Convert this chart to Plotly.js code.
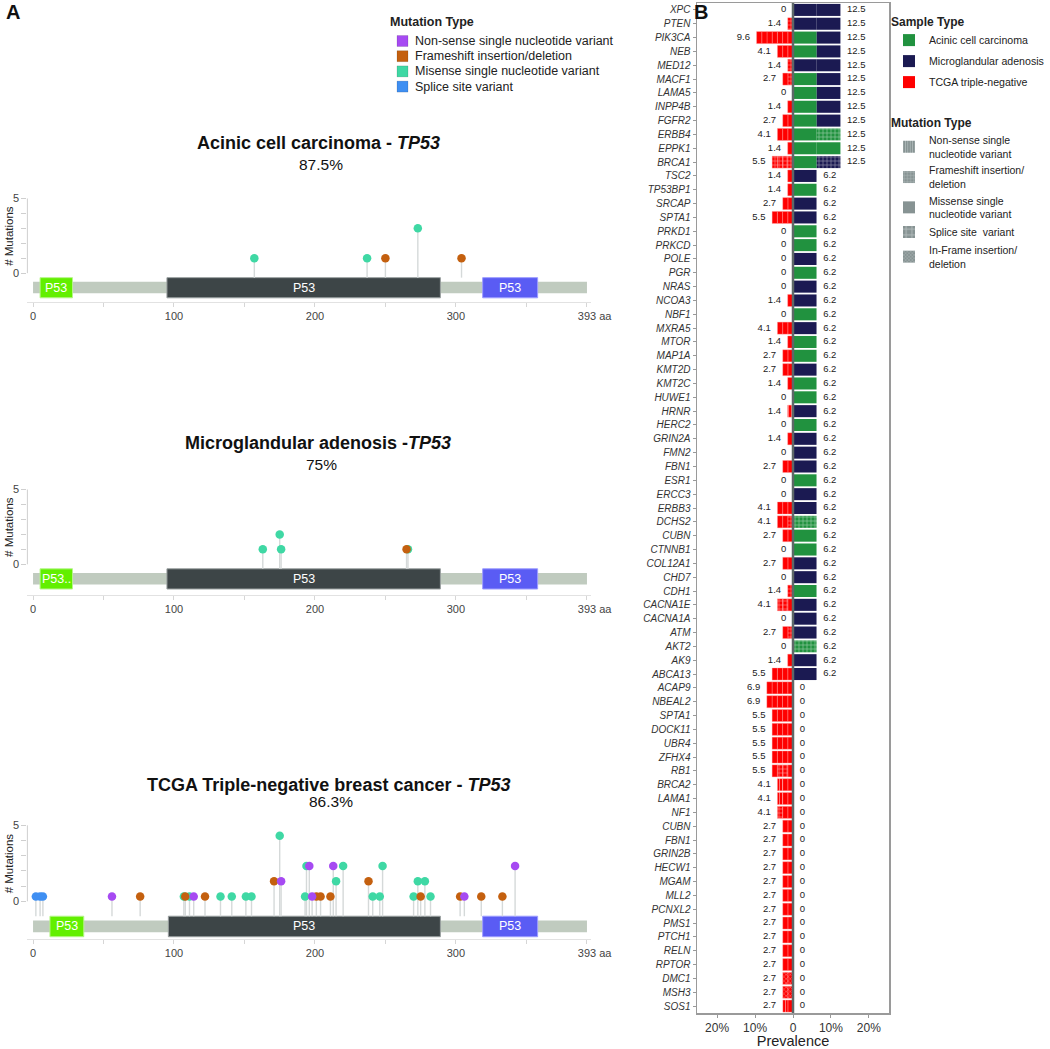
<!DOCTYPE html>
<html><head><meta charset="utf-8">
<script src="https://cdn.plot.ly/plotly-3.0.1.min.js"></script>
<style>html,body{margin:0;padding:0;background:#fff;overflow:hidden;width:1050px;height:1049px}#chart{width:1050px;height:1049px;overflow:hidden}</style>
</head><body><div id="chart"></div>
<script>
// ================= DATA: Panel A (TP53 lollipops) =================
const proteinLength = 393;
const mutTypes = ['Nonsense', 'Frameshift', 'Missense', 'Splice'];
const mutTypeLabels = ['Non-sense single nucleotide variant', 'Frameshift insertion/deletion', 'Misense single nucleotide variant', 'Splice site variant'];

const panelTitles = ['Acinic cell carcinoma - ', 'Microglandular adenosis -', 'TCGA Triple-negative breast cancer - '];
const panelGene = 'TP53';
const panelPct = ['87.5%', '75%', '86.3%'];

const acinicPos   = [157, 237, 250, 273, 304];
const acinicCount = [1, 1, 1, 3, 1];
const acinicType  = ['Missense', 'Missense', 'Frameshift', 'Missense', 'Frameshift'];

const mgaPos   = [163, 175, 176, 266, 265];
const mgaCount = [1, 2, 1, 1, 1];
const mgaType  = ['Missense', 'Missense', 'Missense', 'Missense', 'Frameshift'];

const tcgaPos   = [2, 5, 7, 56, 76, 107, 108, 111, 114, 122, 133, 141, 151, 155, 171, 175, 176, 193, 194, 196, 198, 201, 204, 211, 213, 215, 220, 238, 241, 246, 248, 270, 273, 275, 278, 282, 303, 306, 318, 333, 342];
const tcgaCount = [1, 1, 1, 1, 1, 1, 1, 1, 1, 1, 1, 1, 1, 1, 2, 5, 2, 1, 3, 3, 1, 1, 1, 1, 3, 2, 3, 2, 1, 1, 3, 1, 2, 1, 2, 1, 1, 1, 1, 1, 3];
const tcgaType  = ['Splice', 'Splice', 'Splice', 'Nonsense', 'Frameshift', 'Missense', 'Frameshift', 'Missense', 'Nonsense', 'Frameshift',
                   'Missense', 'Missense', 'Missense', 'Missense', 'Frameshift', 'Missense', 'Nonsense', 'Missense', 'Missense', 'Nonsense',
                   'Nonsense', 'Frameshift', 'Frameshift', 'Frameshift', 'Nonsense', 'Missense', 'Missense', 'Frameshift', 'Missense', 'Missense',
                   'Missense', 'Missense', 'Missense', 'Frameshift', 'Missense', 'Missense', 'Frameshift', 'Nonsense', 'Frameshift', 'Frameshift', 'Nonsense'];

const domainLabels = [['P53', 'P53', 'P53'], ['P53..', 'P53', 'P53'], ['P53', 'P53', 'P53']];
const domainStart  = [[5, 95, 319], [5, 95, 319], [12, 96, 319]];
const domainEnd    = [[28, 289, 358], [28, 289, 358], [36, 289, 358]];

// ================= DATA: Panel B (prevalence bars) =================
const genes = ['XPC','PTEN','PIK3CA','NEB','MED12','MACF1','LAMA5','INPP4B','FGFR2','ERBB4','EPPK1','BRCA1',
  'TSC2','TP53BP1','SRCAP','SPTA1','PRKD1','PRKCD',
  'POLE','PGR','NRAS','NCOA3','NBF1','MXRA5','MTOR','MAP1A','KMT2D','KMT2C','HUWE1','HRNR','HERC2','GRIN2A','FMN2','FBN1','ESR1','ERCC3','ERBB3',
  'DCHS2','CUBN','CTNNB1','COL12A1','CHD7','CDH1','CACNA1E','CACNA1A','ATM','AKT2','AK9','ABCA13',
  'ACAP9','NBEAL2','SPTA1','DOCK11','UBR4','ZFHX4','RB1','BRCA2','LAMA1','NF1',
  'CUBN','FBN1','GRIN2B','HECW1','MGAM','MLL2','PCNXL2','PMS1','PTCH1','RELN','RPTOR','DMC1','MSH3','SOS1'];

// TCGA triple-negative prevalence (%) and mutation type of each sample, from 0 outwards
const tcgaPct = [0,1.4,9.6,4.1,1.4,2.7,0,1.4,2.7,4.1,1.4,5.5,
  1.4,1.4,2.7,5.5,0,0,
  0,0,0,1.4,0,4.1,1.4,2.7,2.7,1.4,0,1.4,0,1.4,0,2.7,0,0,4.1,
  4.1,2.7,0,2.7,0,1.4,4.1,0,2.7,0,1.4,5.5,
  6.9,6.9,5.5,5.5,5.5,5.5,5.5,4.1,4.1,4.1,
  2.7,2.7,2.7,2.7,2.7,2.7,2.7,2.7,2.7,2.7,2.7,2.7,2.7,2.7];
const tcgaMut = ['','F','MMMMMMM','MMM','F','FM','','M','MM','MMM','M','FFFF',
  'M','M','MM','MMMM','','',
  '','','','M','','MMM','M','MM','MM','M','','N','','M','','MM','','','MMM',
  'FMM','MM','','MM','','F','MFF','','FM','','M','MMMM',
  'MMMMM','MMMMM','MMMM','MMMM','MMMM','MMMM','MFFM','MMN','MMN','MMF',
  'MM','MM','MM','MM','MM','MM','MM','MM','MM','MM','MM','II','II','MN'];

// Acinic cell carcinoma + microglandular adenosis prevalence (%) and sample mutation types
const rightPct = [12.5,12.5,12.5,12.5,12.5,12.5,12.5,12.5,12.5,12.5,12.5,12.5,
  6.2,6.2,6.2,6.2,6.2,6.2,
  6.2,6.2,6.2,6.2,6.2,6.2,6.2,6.2,6.2,6.2,6.2,6.2,6.2,6.2,6.2,6.2,6.2,6.2,6.2,
  6.2,6.2,6.2,6.2,6.2,6.2,6.2,6.2,6.2,6.2,6.2,6.2,
  0,0,0,0,0,0,0,0,0,0,
  0,0,0,0,0,0,0,0,0,0,0,0,0,0];
const acinicMut = ['','','M','M','','M','M','M','M','MF','MM','M',
  '','M','','','M','M',
  '','M','','','M','','M','M','','M','M','','M','','','','M','','',
  'F','M','M','','','M','','','','F','','',
  '','','','','','','','','','',
  '','','','','','','','','','','','','',''];
const mgaMut = ['MM','MM','M','M','MM','M','M','M','M','','','F',
  'M','','M','M','','',
  'M','','M','M','','M','','','M','','','M','','M','M','M','','M','M',
  '','','','M','M','','M','M','M','','M','M',
  '','','','','','','','','','',
  '','','','','','','','','','','','','',''];

const sampleTypes = ['Acinic cell carcinoma', 'Microglandular adenosis', 'TCGA triple-negative'];
const mutLegendLabels = ['Non-sense single<br>nucleotide variant', 'Frameshift insertion/<br>deletion', 'Missense single<br>nucleotide variant', 'Splice site  variant', 'In-Frame insertion/<br>deletion'];
const mutLegendCodes = ['N', 'F', 'M', 'S', 'I'];

// ================= STYLE =================
const FONT = 'Liberation Sans, Arial, Helvetica, sans-serif';
const W = 1050, H = 1049;
const px = v => v / W;
const py = v => 1 - v / H;
const typeColor = {Nonsense: '#a64af2', Frameshift: '#c4600f', Missense: '#3fd8a4', Splice: '#3f8ff2'};
const domainColors = ['#62ef00', '#3d4547', '#5a5cf4'];
const domainLines = ['#b6f58a', '#9aa0a0', '#9c9cff'];
const sampleColors = ['#21923f', '#1b1a52', '#ff0000'];
const patternOf = {M: '', F: '+', N: '|', S: '+', I: 'x'};
const patternSize = {M: 4, F: 4, N: 3, S: 7, I: 3};

const geom = [
  {dom: [py(302), py(194)], range: [-1.93, 5.3], shift: 0, titleY: 143, pctY: 164, titleX: 318},
  {dom: [py(595), py(485)], range: [-2.05, 5.3], shift: 0, titleY: 443, pctY: 464, titleX: 318},
  {dom: [py(939), py(822)], range: [-1.8, 5.9], shift: 0.68, titleY: 785, pctY: 801, titleX: 328}
];
const TRACK = [-1.35, -0.58], DOM = [-1.65, -0.3], STEM_BOTTOM = -0.3;

const traces = [], shapes = [], annotations = [];
const layout = {
  width: W, height: H, autosize: false, margin: {l: 0, r: 0, t: 0, b: 0, pad: 0, autoexpand: false},
  paper_bgcolor: '#fff', plot_bgcolor: 'rgba(0,0,0,0)',
  font: {family: FONT, color: '#222'}, hovermode: false, showlegend: true,
  barmode: 'relative', bargap: 0.13
};

const panelData = [
  {pos: acinicPos, count: acinicCount, type: acinicType},
  {pos: mgaPos, count: mgaCount, type: mgaType},
  {pos: tcgaPos, count: tcgaCount, type: tcgaType}
];

panelData.forEach((p, k) => {
  const xa = k === 0 ? 'x' : 'x' + (k + 1);
  const ya = k === 0 ? 'y' : 'y' + (k + 1);
  const g = geom[k];
  const sx = [], sy = [];
  p.pos.forEach((v, i) => { sx.push(v, v, null); sy.push(p.count[i], STEM_BOTTOM, null); });
  traces.push({type: 'scatter', mode: 'lines', x: sx, y: sy, xaxis: xa, yaxis: ya,
    line: {color: '#d5d9d9', width: 1.4}, showlegend: false, hoverinfo: 'skip'});
  ['Missense', 'Frameshift', 'Nonsense', 'Splice'].forEach(t => {
    const idx = p.type.map((tt, i) => tt === t ? i : -1).filter(i => i >= 0);
    if (!idx.length) return;
    traces.push({type: 'scatter', mode: 'markers', x: idx.map(i => p.pos[i]), y: idx.map(i => p.count[i]),
      xaxis: xa, yaxis: ya, marker: {color: typeColor[t], size: 8.5, line: {width: 0}},
      showlegend: false, hoverinfo: 'skip', cliponaxis: false});
  });
  shapes.push({type: 'rect', xref: xa, yref: ya, x0: 0, x1: proteinLength, y0: TRACK[0], y1: TRACK[1],
    fillcolor: '#c0cbbf', line: {width: 0}, layer: 'below'});
  domainStart[k].forEach((s, j) => {
    shapes.push({type: 'rect', xref: xa, yref: ya, x0: s, x1: domainEnd[k][j], y0: DOM[0], y1: DOM[1],
      fillcolor: domainColors[j], line: {color: domainLines[j], width: 1}, layer: 'below'});
    annotations.push({xref: xa, yref: ya, x: (s + domainEnd[k][j]) / 2, y: (DOM[0] + DOM[1]) / 2,
      xanchor: 'center', yanchor: 'middle',
      text: domainLabels[k][j], showarrow: false, font: {size: 12.5, color: '#ffffff', family: FONT}});
  });
  shapes.push({type: 'line', xref: xa + ' domain', yref: ya, x0: 0, x1: 0, y0: g.shift, y1: 5 + g.shift,
    line: {color: '#cfcfcf', width: 1}});
  annotations.push({xref: 'paper', yref: ya, x: px(9), y: 2.5 + g.shift, xanchor: 'center', yanchor: 'middle',
    text: '# Mutations', textangle: -90,
    showarrow: false, font: {size: 11.5, color: '#222', family: FONT}});
  annotations.push({xref: 'paper', yref: 'paper', x: px(g.titleX), y: py(g.titleY), xanchor: 'center', yanchor: 'middle',
    text: '<b>' + panelTitles[k] + '<i>' + panelGene + '</i></b>', showarrow: false,
    font: {size: 18, color: '#111', family: FONT}});
  annotations.push({xref: 'paper', yref: 'paper', x: px(g.titleX + 3), y: py(g.pctY), xanchor: 'center', yanchor: 'middle',
    text: panelPct[k], showarrow: false, font: {size: 15.5, color: '#111', family: FONT}});

  layout[k === 0 ? 'xaxis' : 'xaxis' + (k + 1)] = {
    domain: [px(27.4), px(591.2)], range: [-4, 396], anchor: ya,
    tickmode: 'array', tickvals: [0, 50, 100, 150, 200, 250, 300, 350, 393],
    ticktext: ['0', '', '100', '', '200', '', '300', '', '\u00a0\u00a0\u00a0\u00a0\u00a0393 aa'],
    ticks: 'outside', ticklen: 4, tickcolor: '#d6d6d6', showline: true, linecolor: '#e2e2e2', linewidth: 1,
    showgrid: false, zeroline: false, tickfont: {size: 11, color: '#444'}, fixedrange: true
  };
  layout[k === 0 ? 'yaxis' : 'yaxis' + (k + 1)] = {
    domain: g.dom, range: g.range, anchor: xa,
    tickmode: 'array', tickvals: [0, 1, 2, 3, 4, 5].map(v => v + g.shift), ticktext: ['0', '', '', '', '', '5'],
    ticks: 'outside', ticklen: 5, tickcolor: '#cfcfcf', showline: false, showgrid: false, zeroline: false,
    tickfont: {size: 11, color: '#444'}, fixedrange: true
  };
});

// Panel A legend (drawn)
annotations.push({xref: 'paper', yref: 'paper', x: px(388), y: py(22), xanchor: 'left', yanchor: 'middle', text: '<b>Mutation Type</b>',
  showarrow: false, font: {size: 12.5, color: '#222', family: FONT}});
mutTypes.forEach((t, i) => {
  const c = 41 + i * 15.2;
  shapes.push({type: 'rect', xref: 'paper', yref: 'paper', x0: px(397), x1: px(408), y0: py(c + 5.5), y1: py(c - 5.5),
    fillcolor: typeColor[t], line: {color: 'rgba(0,0,0,0.2)', width: 0.6}});
  annotations.push({xref: 'paper', yref: 'paper', x: px(413), y: py(c), xanchor: 'left', yanchor: 'middle',
    text: mutTypeLabels[i], showarrow: false, font: {size: 12.5, color: '#222', family: FONT}});
});

// Panel labels
annotations.push({xref: 'paper', yref: 'paper', x: px(4), y: py(12), xanchor: 'left', yanchor: 'middle', text: '<b>A</b>', showarrow: false,
  font: {size: 20, color: '#111', family: FONT}});
annotations.push({xref: 'paper', yref: 'paper', x: px(692), y: py(12), xanchor: 'left', yanchor: 'middle', text: '<b>B</b>', showarrow: false,
  font: {size: 20, color: '#111', family: FONT}});

// ================= Panel B bars =================
const idx = genes.map((g, i) => i);
const maxT = Math.max(...tcgaMut.map(s => s.length));
for (let k = 0; k < maxT; k++) {
  traces.push({type: 'bar', orientation: 'h', xaxis: 'x4', yaxis: 'y4', y: idx,
    x: genes.map((g, i) => k < tcgaMut[i].length ? -tcgaPct[i] / tcgaMut[i].length : null),
    marker: {color: sampleColors[2], line: {color: 'rgba(255,165,165,0.9)', width: 0.4},
      pattern: {shape: genes.map((g, i) => k < tcgaMut[i].length ? patternOf[tcgaMut[i][k]] : ''),
        size: genes.map((g, i) => k < tcgaMut[i].length ? patternSize[tcgaMut[i][k]] : 4),
        fgcolor: '#ffffff', fillmode: 'overlay', solidity: 0.3}},
    showlegend: false, hoverinfo: 'skip'});
}
const rightSegs = genes.map((g, i) => acinicMut[i].split('').map(c => ({s: 0, m: c}))
  .concat(mgaMut[i].split('').map(c => ({s: 1, m: c}))));
const maxR = Math.max(...rightSegs.map(s => s.length));
for (let k = 0; k < maxR; k++) {
  traces.push({type: 'bar', orientation: 'h', xaxis: 'x4', yaxis: 'y4', y: idx,
    x: genes.map((g, i) => k < rightSegs[i].length ? rightPct[i] / rightSegs[i].length : null),
    marker: {color: genes.map((g, i) => k < rightSegs[i].length ? sampleColors[rightSegs[i][k].s] : '#fff'),
      line: {width: 0},
      pattern: {shape: genes.map((g, i) => k < rightSegs[i].length ? patternOf[rightSegs[i][k].m] : ''),
        fgcolor: '#ffffff', fillmode: 'overlay', size: 4, solidity: 0.3}},
    showlegend: false, hoverinfo: 'skip'});
}
const fmt = v => v === 0 ? '0' : String(v);
traces.push({type: 'scatter', mode: 'markers+text', xaxis: 'x4', yaxis: 'y4', y: idx,
  x: tcgaPct.map(v => -v), text: tcgaPct.map(fmt), textposition: 'middle left',
  marker: {size: 9, opacity: 0}, textfont: {size: 9.5, color: '#222', family: FONT}, showlegend: false, hoverinfo: 'skip'});
traces.push({type: 'scatter', mode: 'markers+text', xaxis: 'x4', yaxis: 'y4', y: idx,
  x: rightPct, text: rightPct.map(fmt), textposition: 'middle right',
  marker: {size: 9, opacity: 0}, textfont: {size: 9.5, color: '#222', family: FONT}, showlegend: false, hoverinfo: 'skip'});

shapes.push({type: 'line', xref: 'x4', yref: 'y4 domain', x0: 0, x1: 0, y0: 0, y1: 1,
  line: {color: '#5e6868', width: 2.5}, layer: 'above'});

layout.xaxis4 = {domain: [px(697), px(889)], range: [-25.3, 25.3], anchor: 'y4',
  tickmode: 'array', tickvals: [-20, -10, 0, 10, 20], ticktext: ['20%', '10%', '0', '10%', '20%'],
  ticks: 'outside', ticklen: 3, tickcolor: '#999', showline: true, mirror: true, linecolor: '#9a9a9a', linewidth: 1.5,
  showgrid: false, zeroline: false, tickfont: {size: 12, color: '#333'},
  title: {text: 'Prevalence', font: {size: 14.5, color: '#222'}, standoff: 5}, fixedrange: true};
layout.yaxis4 = {domain: [py(1013), py(3)], range: [72.5, -0.5], anchor: 'x4',
  tickmode: 'array', tickvals: idx, ticktext: genes.map(g => '<i>' + g + '</i>'),
  ticks: 'outside', ticklen: 3, tickcolor: '#999', showline: true, mirror: true, linecolor: '#9a9a9a', linewidth: 1.5,
  showgrid: false, zeroline: false, tickfont: {size: 10, color: '#333'}, fixedrange: true};

// Panel B legends
sampleTypes.forEach((s, i) => {
  traces.push({type: 'bar', orientation: 'h', x: [null], y: [null], xaxis: 'x4', yaxis: 'y4', name: s,
    marker: {color: sampleColors[i]}, legend: 'legend2', legendgroup: 's' + i, showlegend: true, hoverinfo: 'skip'});
});
mutLegendLabels.forEach((s, i) => {
  const c = mutLegendCodes[i];
  traces.push({type: 'bar', orientation: 'h', x: [null], y: [null], xaxis: 'x4', yaxis: 'y4', name: s,
    marker: {color: '#879393', pattern: {shape: patternOf[c], size: patternSize[c], fgcolor: '#dfe6e6', fillmode: 'overlay', solidity: 0.3}},
    legend: 'legend3', legendgroup: 'm' + i, showlegend: true, hoverinfo: 'skip'});
});
layout.legend2 = {x: px(889), y: py(10), xanchor: 'left', yanchor: 'top', bgcolor: 'rgba(0,0,0,0)',
  font: {size: 10.6, color: '#222', family: FONT}, title: {text: '<b>Sample Type</b>', font: {size: 12, color: '#222'}},
  tracegroupgap: 2, itemclick: false, itemdoubleclick: false};
layout.legend3 = {x: px(889), y: py(111), xanchor: 'left', yanchor: 'top', bgcolor: 'rgba(0,0,0,0)',
  font: {size: 10.5, color: '#222', family: FONT}, title: {text: '<b>Mutation Type</b>', font: {size: 12, color: '#222'}},
  tracegroupgap: 0, valign: 'middle', itemclick: false, itemdoubleclick: false};

layout.shapes = shapes;
layout.annotations = annotations;
Plotly.newPlot('chart', traces, layout, {displayModeBar: false, staticPlot: true});
</script></body></html>
